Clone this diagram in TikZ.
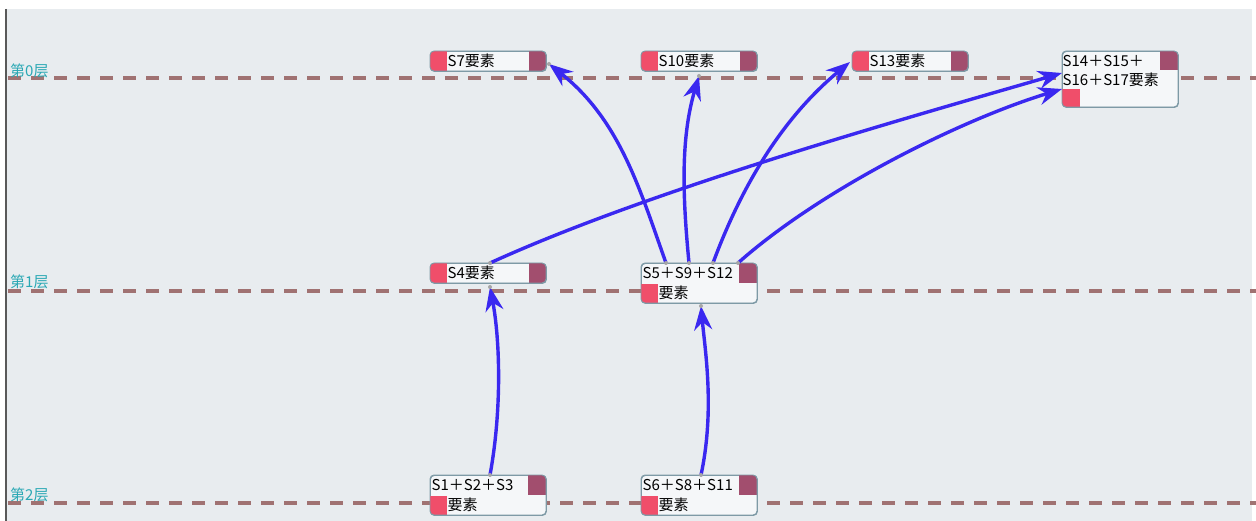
\documentclass[tikz,border=0pt]{standalone}
\usepackage{fontspec}
\setmainfont{Liberation Serif}
\newfontfamily\cjk{Noto Sans CJK SC}
\usetikzlibrary{arrows.meta,calc}
\definecolor{bgc}{HTML}{E8ECEF}
\definecolor{layerc}{HTML}{A07272}
\definecolor{labc}{HTML}{2AA8B4}
\definecolor{boxc}{HTML}{7E9AA6}
\definecolor{boxfill}{HTML}{F5F7F9}
\definecolor{pinkc}{HTML}{F04E6A}
\definecolor{darkc}{HTML}{A24E6E}
\definecolor{arrc}{HTML}{3A28F0}
\tikzset{
  layerline/.style={draw=layerc, line width=3.2pt, dash pattern=on 13pt off 10pt},
  laylab/.style={text=labc, font=\cjk\fontsize{15}{15}\selectfont, anchor=base west, inner sep=0pt},
  elbox/.style={draw=boxc, fill=boxfill, rounded corners=4pt, line width=0.9pt, inner sep=0pt, anchor=north west},
  eltext/.style={font=\cjk\fontsize{15}{15}\selectfont, anchor=base west, inner sep=0pt, text=black},
  flow/.style={draw=arrc, line width=3.4pt, -{Stealth[length=24pt,width=18pt]}},
  pin/.style={fill=gray!70, inner sep=0pt, minimum size=4pt, circle},
}
\newcommand{\onebox}[4]{% name, x, y, text
  \node[elbox, minimum width=116pt, minimum height=20pt] (#1) at (#2,#3) {};
  \begin{scope}
    \clip[rounded corners=4pt] (#2,#3) rectangle ++(116,20);
    \fill[pinkc] (#2,#3) rectangle ++(17,20);
    \fill[darkc] ($(#2,#3)+(99,0)$) rectangle ++(17,20);
  \end{scope}
  \draw[boxc, line width=0.9pt, rounded corners=4pt] (#2,#3) rectangle ++(116,20);
  \node[eltext] at ($(#2,#3)+(17.5,15.5)$) {#4};
}
\newcommand{\twobox}[4]{% name, x, y, first line
  \node[elbox, minimum width=116pt, minimum height=40pt] (#1) at (#2,#3) {};
  \begin{scope}
    \clip[rounded corners=4pt] (#2,#3) rectangle ++(116,40);
    \fill[pinkc] ($(#2,#3)+(0,21)$) rectangle ++(17,19);
    \fill[darkc] ($(#2,#3)+(98,0)$) rectangle ++(18,20);
  \end{scope}
  \draw[boxc, line width=0.9pt, rounded corners=4pt] (#2,#3) rectangle ++(116,40);
  \node[eltext] at ($(#2,#3)+(1.5,15.5)$) {#4};
  \node[eltext] at ($(#2,#3)+(17.5,35.5)$) {要素};
}
\begin{document}
\begin{tikzpicture}[x=1pt,y=-1pt]
\useasboundingbox (0,0) rectangle (1256,521);
\fill[white] (0,0) rectangle (1256,521);
\fill[bgc] (5,9) rectangle (1252,521);
\draw[draw=black!65, line width=2pt] (6,9) -- (6,521);
% layers
\coordinate (L0a) at (8,78); \coordinate (L0b) at (1256,78);
\coordinate (L1a) at (8,291); \coordinate (L1b) at (1256,291);
\coordinate (L2a) at (8,503); \coordinate (L2b) at (1256,503);
\draw[layerline] (L0a) -- (L0b);
\draw[layerline] (L1a) -- (L1b);
\draw[layerline] (L2a) -- (L2b);
\node[laylab] (lab0) at (10,77) {第0层};
\node[laylab] (lab1) at (10,288) {第1层};
\node[laylab] (lab2) at (10,500) {第2层};
% elements
\onebox{s7}{430}{51}{S7要素}
\onebox{s10}{641}{51}{S10要素}
\onebox{s13}{852}{51}{S13要素}
\onebox{s4}{430}{263}{S4要素}
\twobox{s5}{641}{263}{S5＋S9＋S12}
\twobox{s1}{430}{475}{S1＋S2＋S3}
\twobox{s6}{641}{475}{S6＋S8＋S11}
% S14 box
\node[elbox, minimum width=116pt, minimum height=56pt] (s14) at (1062,51) {};
\begin{scope}
  \clip[rounded corners=4pt] (1062,51) rectangle ++(116,56);
  \fill[pinkc] (1062,89) rectangle ++(18,18);
  \fill[darkc] (1160,51) rectangle ++(18,19);
\end{scope}
\draw[boxc, line width=0.9pt, rounded corners=4pt] (1062,51) rectangle ++(116,56);
\node[eltext] (s14t1) at (1062.5,66.5) {S14＋S15＋};
\node[eltext] (s14t2) at (1062.5,85.5) {S16＋S17要素};
% connection points
\coordinate (s7in) at (549,64);
\coordinate (s10in) at (699,76);
\coordinate (s13in) at (850,62);
\coordinate (s14ina) at (1062,73);
\coordinate (s14inb) at (1062,89);
\coordinate (s4out) at (490,263);
\coordinate (s4in) at (490,287);
\coordinate (s5o1) at (666,263);
\coordinate (s5o2) at (689,263);
\coordinate (s5o3) at (713,263);
\coordinate (s5o4) at (738,263);
\coordinate (s5in) at (701,306);
\coordinate (s1out) at (490,475);
\coordinate (s6out) at (701,475);
% arrows
\draw[flow] (s1out) .. controls (502,410) and (500,340) .. (s4in);
\draw[flow] (s6out) .. controls (715,410) and (705,350) .. (s5in);
\draw[flow] (s5o1) .. controls (640,190) and (620,120) .. (s7in);
\draw[flow] (s5o2) .. controls (683,200) and (680,140) .. (s10in);
\draw[flow] (s5o3) .. controls (740,190) and (780,120) .. (s13in);
\draw[flow] (s5o4) .. controls (820,190) and (960,120) .. (s14inb);
\draw[flow] (s4out) .. controls (650,190) and (900,120) .. (s14ina);
% small pins
\foreach \p in {s7in,s10in,s4out,s4in,s5o1,s5o2,s5o3,s5o4,s5in,s1out,s6out}
  \node[pin] at (\p) {};
\end{tikzpicture}
\end{document}
